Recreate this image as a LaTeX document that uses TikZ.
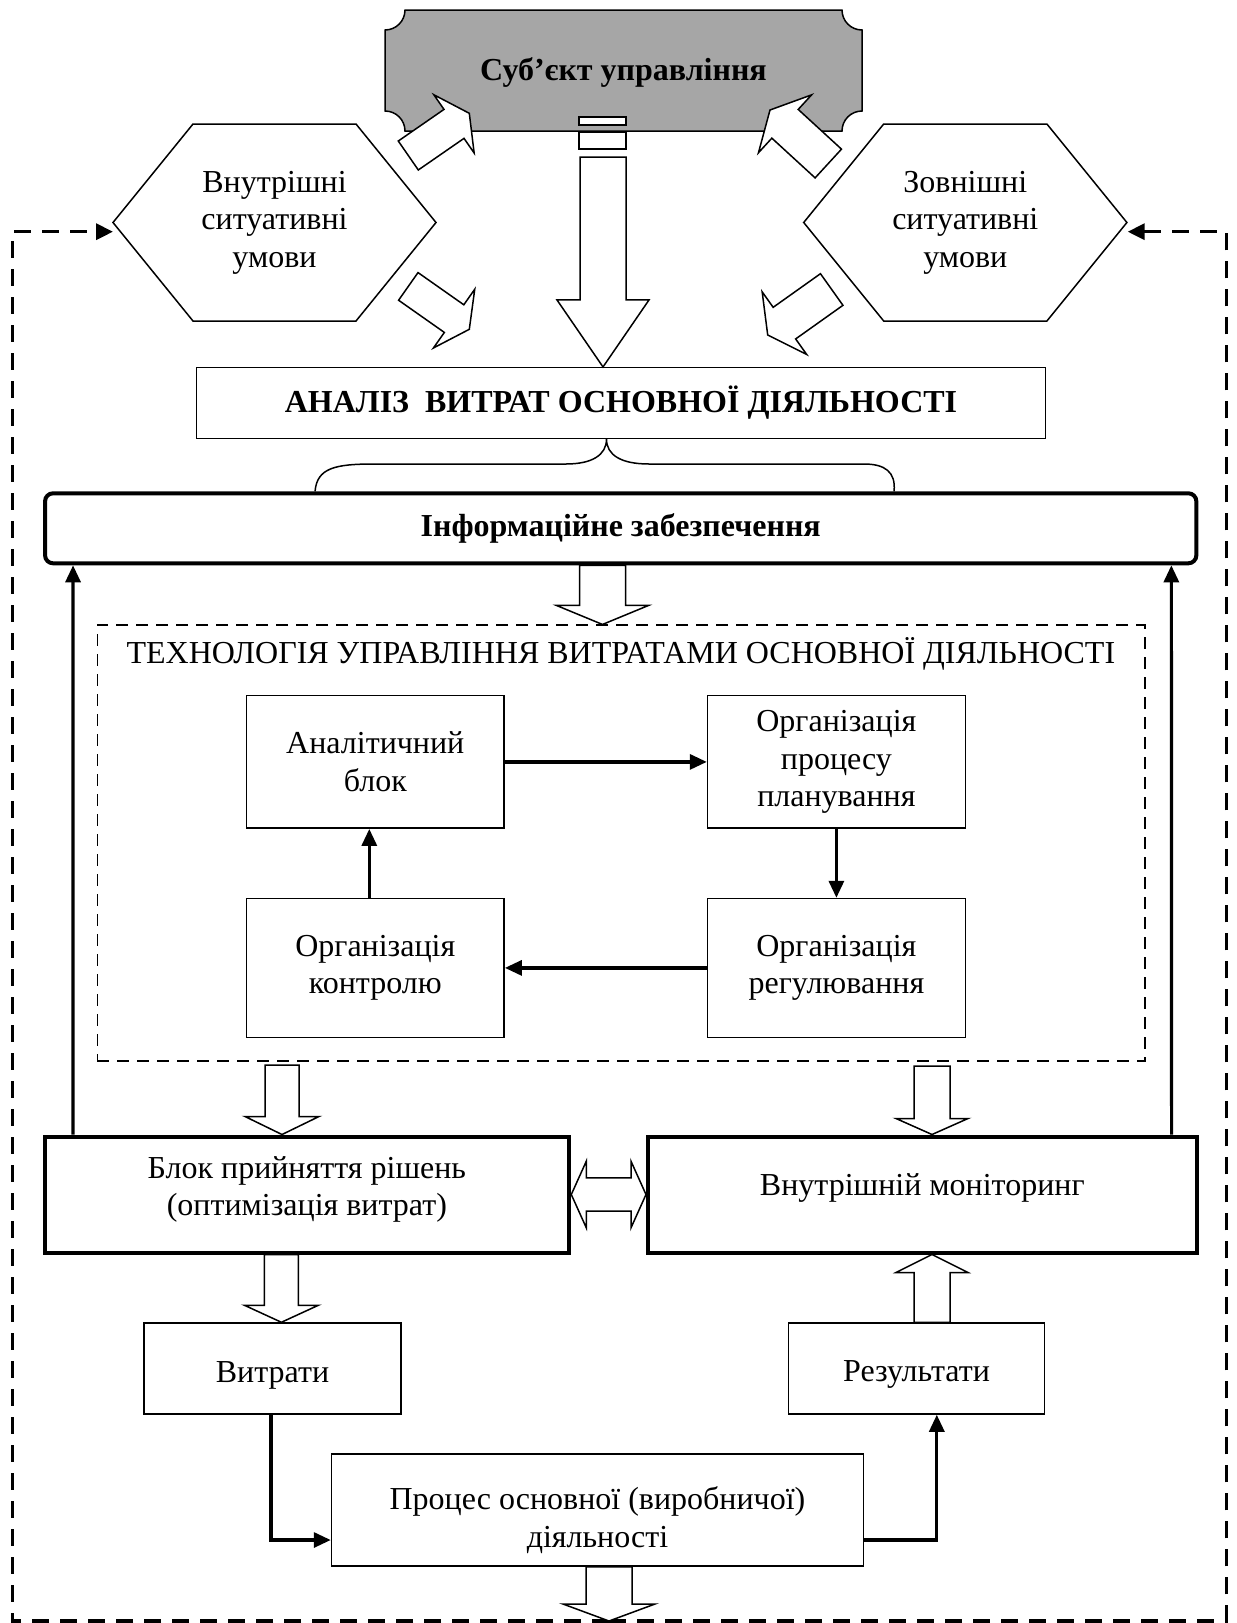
\documentclass[tikz,border=0pt]{standalone}
\usepackage{fontspec}
\setmainfont{Liberation Serif}
\usetikzlibrary{calc,arrows.meta}
\definecolor{plate}{HTML}{A6A6A6}
\newcommand{\fs}{\fontsize{32}{37.5}\selectfont}
\tikzset{
  box/.style={draw,line width=1.5pt,align=center,inner sep=0pt},
  bbox/.style={box,line width=4pt},
  ar/.style={-{Triangle[length=17pt,width=15pt]},line width=3.2pt},
  blk/.style={draw,fill=white,line width=1.5pt,line join=miter},
  fb/.style={line width=3.5pt,dash pattern=on 17pt off 11pt,-{Triangle[length=17pt,width=16pt]}},
  hexa/.style={draw,line width=1.5pt,line join=miter}
}
% block arrow: tail, tip, half shaft, half head, head length
\newcommand{\blockarr}[5]{%
  \path ($(#2)!#5!(#1)$) coordinate (bah);
  \draw[blk] ($(#1)!#3!90:(#2)$) -- ($(bah)!#3!90:(#2)$) -- ($(bah)!#4!90:(#2)$) -- (#2)
    -- ($(bah)!#4!-90:(#2)$) -- ($(bah)!#3!-90:(#2)$) -- ($(#1)!#3!-90:(#2)$) -- cycle;
}
\newcommand{\dblarr}[5]{%
  \path ($(#1)!#5!(#2)$) coordinate (daa) ($(#2)!#5!(#1)$) coordinate (dab);
  \draw[blk] (#1) -- ($(daa)!#4!90:(#2)$) -- ($(daa)!#3!90:(#2)$) -- ($(dab)!#3!90:(#2)$)
    -- ($(dab)!#4!90:(#2)$) -- (#2) -- ($(dab)!#4!-90:(#2)$) -- ($(dab)!#3!-90:(#2)$)
    -- ($(daa)!#3!-90:(#2)$) -- ($(daa)!#4!-90:(#2)$) -- cycle;
}
\begin{document}
\begin{tikzpicture}[x=1pt,y=-1pt,font=\fs]
\useasboundingbox (0,0) rectangle (1237,1623);
\draw[line width=1.5pt,fill=plate] (405,10) -- (842,10) arc[start angle=180,end angle=270,radius=20pt]
  -- (862,111) arc[start angle=90,end angle=180,radius=20pt]
  -- (405,131) arc[start angle=0,end angle=90,radius=20pt]
  -- (385,30) arc[start angle=270,end angle=360,radius=20pt] -- cycle;
\node[font=\fs\bfseries] (subj) at (623.5,72) {Суб’єкт управління};
\node[align=center] (hexL) at (274.5,222.5) {Внутрішні\\ситуативні\\умови};
\node[align=center] (hexR) at (965.3,222.5) {Зовнішні\\ситуативні\\умови};
\draw[hexa] ($(hexL)+(-161.5,0)$) -- ++(80,-98.5) -- ++(163,0) -- ++(80,98.5) -- ++(-80,98.5) -- ++(-163,0) -- cycle;
\draw[hexa] ($(hexR)+(-161.6,0)$) -- ++(80,-98.5) -- ++(163.2,0) -- ++(80,98.5) -- ++(-80,98.5) -- ++(-163.2,0) -- cycle;
\node[box,font=\fs\bfseries,minimum width=848.6pt,minimum height=70.6pt] (anl) at (621,403) {АНАЛІЗ\ \ ВИТРАТ ОСНОВНОЇ ДІЯЛЬНОСТІ};
\node[bbox,rounded corners=8pt,font=\fs\bfseries,minimum width=1151.3pt,minimum height=70pt] (info) at (620.7,528.3) {Інформаційне забезпечення};
\node[draw,line width=1.5pt,dash pattern=on 12pt off 8pt,minimum width=1047.5pt,minimum height=435.8pt] (tech) at (621,843.1) {};
\node (techt) at (621,654) {ТЕХНОЛОГІЯ УПРАВЛІННЯ ВИТРАТАМИ ОСНОВНОЇ ДІЯЛЬНОСТІ};
\node[box,minimum width=257.7pt,minimum height=132.5pt] (ablk) at (375.3,761.9) {Аналітичний\\блок};
\node[box,minimum width=257.7pt,minimum height=132.5pt] (plan) at (836.4,761.9) {Організація\\процесу\\планування};
\node[box,minimum width=257.7pt,minimum height=138.7pt] (ctrl) at (375.3,967.9) {Організація\\контролю};
\node[box,minimum width=257.7pt,minimum height=138.7pt] (reg) at (836.4,967.9) {Організація\\регулювання};
\node[bbox,minimum width=524.8pt,minimum height=116pt,
  label={[align=center,yshift=5pt]center:{Блок прийняття рішень\\(оптимізація витрат)}}] (dec) at (306.9,1194.5) {};
\node[bbox,minimum width=548.6pt,minimum height=116pt,
  label={[yshift=7pt]center:Внутрішній моніторинг}] (mon) at (922.3,1194.5) {};
\node[box,minimum width=257pt,minimum height=91pt,label={[yshift=-7pt]center:Витрати}] (vytr) at (272.5,1368.5) {};
\node[box,minimum width=256pt,minimum height=91pt,label={[yshift=-6pt]center:Результати}] (res) at (916.5,1368.5) {};
\node[box,minimum width=532pt,minimum height=112pt,
  label={[align=center,yshift=-10pt]center:{Процес основної (виробничої)\\діяльності}}] (proc) at (597.5,1510) {};
% brace
\draw[line width=1.5pt] ($(info.north west)+(272,0)$) .. controls (317,468) and (335,464) .. (374,464) -- (566,464)
  .. controls (592,464) and (606.5,455) .. ($(anl.south)+(-14.5,0)$)
  .. controls (606.5,455) and (621,464) .. (649,464) -- (864,464)
  .. controls (885,464) and (896,472) .. ($(info.north west)+(851,0)$);
% feedback
\coordinate (pb1) at ($(proc.south)+(11.5,0)$);
\coordinate (pb2) at (609,1621);
\coordinate (fbL) at ($(hexL)+(-161.5,9.2)$);
\coordinate (fbR) at ($(hexR)+(162.4,9.2)$);
\draw[fb] (pb2) -- (12.3,1621) |- (fbL);
\draw[fb] (pb2) -- (1226.3,1621) |- (fbR);
% block arrows
\coordinate (sa) at (603,157);
\coordinate (sb) at (anl.north -| sa);
\draw[blk] (579,117) rectangle (626,125);
\draw[blk] (579,132) rectangle (626,149);
\blockarr{sa}{sb}{23pt}{46pt}{67pt}
\coordinate (lu1) at (408.3,155.5);
\coordinate (lu2) at (469.3,113.3);
\coordinate (ru1) at (828.3,163.5);
\coordinate (ru2) at (770,110);
\coordinate (ld1) at (408.3,286.4);
\coordinate (ld2) at (469.3,329.3);
\coordinate (rd1) at (831.7,289.5);
\coordinate (rd2) at (767.7,335);
\blockarr{lu1}{lu2}{17.6pt}{35.4pt}{18.6pt}
\blockarr{ru1}{ru2}{19.5pt}{39.3pt}{20.4pt}
\blockarr{ld1}{ld2}{16.9pt}{35.9pt}{18.6pt}
\blockarr{rd1}{rd2}{19.4pt}{38.4pt}{20.5pt}
\coordinate (it1) at ($(info.south)+(-18.2,0)$);
\coordinate (it2) at (tech.north -| it1);
\blockarr{it1}{it2}{23pt}{46pt}{19pt}
\coordinate (td1) at (282,1065);
\coordinate (td2) at (dec.north -| td1);
\blockarr{td1}{td2}{17pt}{37pt}{18pt}
\coordinate (tm1) at (932,1066);
\coordinate (tm2) at (mon.north -| tm1);
\blockarr{tm1}{tm2}{18pt}{36pt}{16pt}
\coordinate (dv1) at ($(dec.south)+(-25.5,0)$);
\coordinate (dv2) at (vytr.north -| dv1);
\blockarr{dv1}{dv2}{17pt}{37pt}{17pt}
\coordinate (rm1) at ($(res.north)+(15.5,0)$);
\coordinate (rm2) at (mon.south -| rm1);
\blockarr{rm1}{rm2}{18pt}{36pt}{18pt}
\blockarr{pb1}{pb2}{23pt}{46pt}{17pt}
\dblarr{dec.east}{mon.west}{16.7pt}{33.3pt}{15pt}
% connectors
\draw[ar] (ablk) -- (plan);
\draw[ar] (plan) -- (reg);
\draw[ar] (reg) -- (ctrl);
\draw[ar] ([xshift=-6pt]ctrl.north) -- ([xshift=-6pt]ablk.south);
\draw[ar] ($(dec.north west)+(30.5,0)$) -- ($(info.south west)+(30,0)$);
\draw[ar] ($(mon.north east)+(-27,0)$) -- ($(info.south east)+(-27,0)$);
\draw[ar] ($(vytr.south)+(-1.5,0)$) |- ($(proc.west)+(0,30)$);
\draw[ar] ($(proc.east)+(0,30)$) -| ($(res.south)+(20.3,0)$);
\end{tikzpicture}
\end{document}
